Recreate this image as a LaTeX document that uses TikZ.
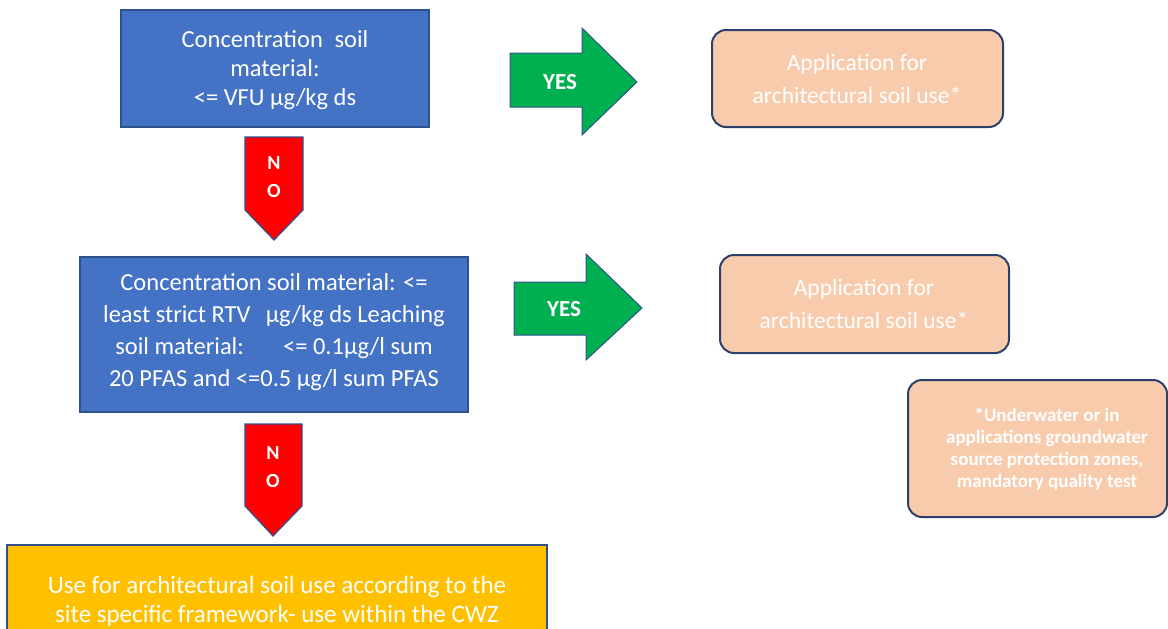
\documentclass[tikz,border=0pt]{standalone}
\usepackage{fontspec}
\setmainfont{Carlito}
\definecolor{boxblue}{HTML}{4472C4}
\definecolor{edgeblue}{HTML}{2F528F}
\definecolor{arrowgreen}{HTML}{00B050}
\definecolor{arrowred}{HTML}{FF0000}
\definecolor{peach}{HTML}{F8CBAD}
\definecolor{peachedge}{HTML}{2E3F6B}
\definecolor{amber}{HTML}{FFC000}
\tikzset{
  bluebox/.style={draw=edgeblue, line width=1.5pt, fill=boxblue},
  peachbox/.style={draw=peachedge, line width=2pt, fill=peach, rounded corners=14pt},
  amberbox/.style={draw=edgeblue, line width=1.5pt, fill=amber},
  yesarrow/.style={draw=edgeblue, line width=1pt, fill=arrowgreen},
  noarrow/.style={draw=edgeblue, line width=1.2pt, fill=arrowred},
  txt/.style={text=white, align=center, inner sep=0pt},
}
\begin{document}
\begin{tikzpicture}[x=1pt, y=-1pt]
\useasboundingbox (0,0) rectangle (1168,629);
\fill[white] (0,0) rectangle (1168,629);

% Box 1
\draw[bluebox] (121,10) rectangle (429,127);
\node[txt, font=\fontsize{24.5}{29}\selectfont] (b1) at (275,70)
  {Concentration\hspace{0.25em} soil\\material:\\<= VFU µg/kg ds};

% YES arrow 1
\draw[yesarrow] (510,53) -- (582,53) -- (582,28) -- (637,82) -- (582,135) -- (582,107) -- (510,107) -- cycle;
\node[txt, font=\bfseries\fontsize{23}{26}\selectfont] (y1) at (560,82) {YES};

% Peach box 1
\draw[peachbox] (712,30) rectangle (1003,127);
\node[txt, font=\fontsize{23.5}{33}\selectfont] (p1) at (857,79)
  {Application for\\architectural soil use*};

% NO arrow 1
\draw[noarrow] (245,137) -- (303,137) -- (303,210) -- (274,240) -- (245,210) -- cycle;
\node[txt, font=\bfseries\fontsize{20}{28}\selectfont] (n1) at (274,177) {N\\O};

% Box 2
\draw[bluebox] (80,257) rectangle (468,412);
\node[txt, font=\fontsize{24.5}{32}\selectfont] (b2) at (274,332)
  {Concentration soil material: <=\\least strict RTV\hspace{0.4em} µg/kg ds Leaching\\soil material:\hspace{1.3em} <= 0.1µg/l sum\\20 PFAS and <=0.5 µg/l sum PFAS};

% YES arrow 2
\draw[yesarrow] (514,282) -- (586,282) -- (586,254) -- (642,308) -- (586,360) -- (586,335) -- (514,335) -- cycle;
\node[txt, font=\bfseries\fontsize{23}{26}\selectfont] (y2) at (564,309) {YES};

% Peach box 2
\draw[peachbox] (720,255) rectangle (1009,353);
\node[txt, font=\fontsize{23.5}{33}\selectfont] (p2) at (864,304)
  {Application for\\architectural soil use*};

% Footnote box
\draw[peachbox] (908,380) rectangle (1167,517);
\node[txt, font=\bfseries\fontsize{19}{22}\selectfont] (fn) at (1047,449)
  {*Underwater or in\\applications groundwater\\source protection zones,\\mandatory quality test};

% NO arrow 2
\draw[noarrow] (245,424) -- (302,424) -- (302,506) -- (273,536) -- (245,506) -- cycle;
\node[txt, font=\bfseries\fontsize{20}{28}\selectfont] (n2) at (273,467) {N\\O};

% Amber box
\draw[amberbox] (7,545) rectangle (547,645);
\node[txt, font=\fontsize{25}{29}\selectfont] (a1) at (277,601)
  {Use for architectural soil use according to the\\site specific framework- use within the CWZ};
\end{tikzpicture}
\end{document}
